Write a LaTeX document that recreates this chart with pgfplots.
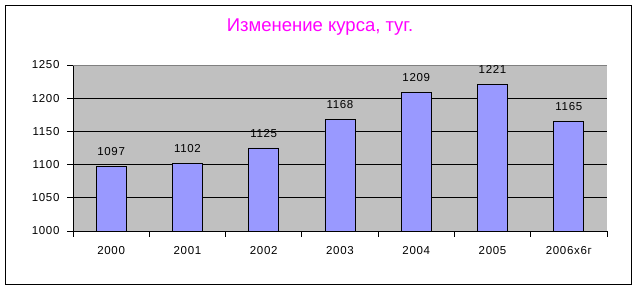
\documentclass[border=0pt]{standalone}
\usepackage{pgfplots}
\pgfplotsset{compat=1.18}
\usepackage{fontspec}
\setmainfont{Liberation Sans}
\newfontfamily\spaced[LetterSpace=6]{Liberation Sans}
\definecolor{barfill}{HTML}{9999FF}
\definecolor{plotbg}{HTML}{C0C0C0}
\definecolor{titlecol}{HTML}{FF00FF}
\begin{document}
\begin{tikzpicture}
\useasboundingbox (0,0) rectangle (638pt,291pt);
\fill[white] (0,0) rectangle (638pt,291pt);
\draw[black, line width=1pt] (5.5pt,6pt) rectangle (631pt,285.5pt);
\node[titlecol, font=\fontsize{18.5}{22}\selectfont] at (320pt,264pt) {Изменение курса, туг.};
\begin{axis}[
  at={(73pt,60pt)}, anchor=south west,
  scale only axis, width=534pt, height=166pt,
  xmin=-0.5, xmax=6.5, ymin=1000, ymax=1250,
  ytick={1000,1050,...,1250},
  xtick={0,...,6},
  xticklabels={2000,2001,2002,2003,2004,2005,2006х6г},
  minor xtick={-0.5,0.5,...,6.5},
  major x tick style={draw=none},
  minor x tick style={black, line width=0.8pt},
  y tick style={black, line width=0.8pt},
  tick align=outside,
  major tick length=6pt, minor tick length=6pt,
  ymajorgrids, grid style={black, line width=0.8pt},
  axis lines*=left,
  axis line style={black, line width=0.8pt, -},
  axis background/.style={fill=plotbg},
  /pgf/number format/assume math mode=true,
  /pgf/number format/1000 sep={},
  ticklabel style={font=\spaced\fontsize{11.5}{13}\selectfont},
  yticklabel style={xshift=-4pt},
  xticklabel style={yshift=-6pt},
  ybar, bar width=30pt,
  nodes near coords,
  every node near coord/.append style={font=\spaced\fontsize{11.5}{13}\selectfont, black, yshift=7pt},
]
\addplot[fill=barfill, draw=black, line width=0.8pt] coordinates {
(0,1097) (1,1102) (2,1125) (3,1168) (4,1209) (5,1221) (6,1165)};
\draw[gray, line width=0.8pt] (rel axis cs:0,1) -- (rel axis cs:1,1) -- (rel axis cs:1,0);
\end{axis}
\end{tikzpicture}
\end{document}
